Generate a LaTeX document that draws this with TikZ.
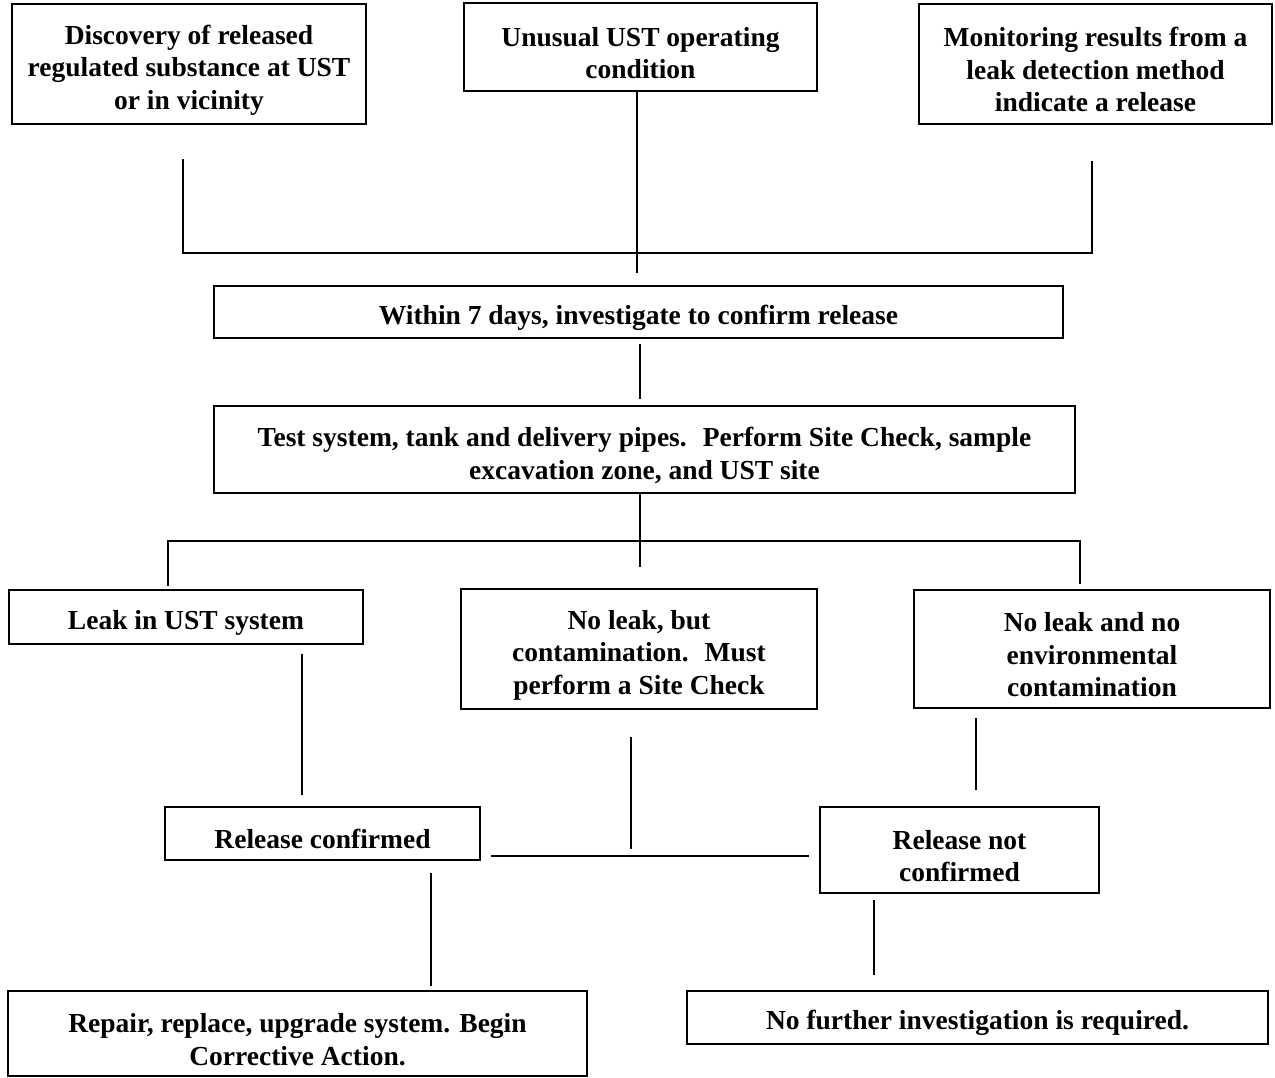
\documentclass[tikz,border=0pt]{standalone}
\usepackage{fontspec}
\setmainfont{Liberation Serif}
\usetikzlibrary{calc}

% pushes the first text line of a box down a little
\newcommand{\boxgap}{\rule{0pt}{31pt}}

\begin{document}
\begin{tikzpicture}[
    x=1pt, y=-1pt,
    font=\fontsize{27.5}{32.5}\selectfont\bfseries,
    box/.style={draw, line width=2.6pt, align=center, inner sep=0pt},
    link/.style={line width=1.8pt}
]

\useasboundingbox (0,0) rectangle (1275,1077);

% ==========================================
% 1. TRIGGER BOXES (top row)
% ==========================================

\node[box, minimum width=354pt, minimum height=120pt] (disc) at (189,64)
    {\boxgap Discovery of released\\regulated substance at UST\\or in vicinity};
\node[box, minimum width=353pt, minimum height=88pt] (unusual) at (640.5,47)
    {\boxgap Unusual UST operating\\condition};
\node[box, minimum width=353pt, minimum height=120pt] (monit) at (1095.5,64)
    {\boxgap Monitoring results from a\\leak detection method\\indicate a release};

% ==========================================
% 2. INVESTIGATION BOXES
% ==========================================

\node[box, minimum width=849pt, minimum height=52pt] (within) at (638.5,312)
    {\boxgap Within 7 days, investigate to confirm release};
\node[box, minimum width=861pt, minimum height=87pt] (test) at (644.5,449.5)
    {\boxgap Test system, tank and delivery pipes.~ Perform Site Check, sample\\excavation zone, and UST site};

% ==========================================
% 3. RESULT BOXES
% ==========================================

\node[box, minimum width=354pt, minimum height=54pt] (leak) at (186,617)
    {\boxgap Leak in UST system};
\node[box, minimum width=356pt, minimum height=120pt] (contam) at (639,649)
    {\boxgap No leak, but\\contamination.~ Must\\perform a Site Check};
\node[box, minimum width=356pt, minimum height=118pt] (noleak) at (1092,649)
    {\boxgap No leak and no\\environmental\\contamination};

\node[box, minimum width=315pt, minimum height=53pt] (conf) at (322.5,833.5)
    {\boxgap Release confirmed};
\node[box, minimum width=279pt, minimum height=86pt] (notconf) at (959.5,850)
    {\boxgap Release not\\confirmed};

\node[box, minimum width=579pt, minimum height=85pt] (repair) at (297.5,1033.5)
    {\boxgap Repair, replace, upgrade system. Begin\\Corrective Action.};
\node[box, minimum width=581pt, minimum height=53pt] (nofurther) at (977.5,1017.5)
    {\boxgap No further investigation is required.};

% ==========================================
% 4. CONNECTORS
% ==========================================

\coordinate (jtop) at (637,253);
\coordinate (jmid) at (640,541);
\coordinate (jlow) at (631,856);

% Top bracket
\draw[link] ($(disc.south)+(-6,34)$) |- (jtop) -| ($(monit.south)+(-3.5,36)$);
\draw[link] (unusual.south -| jtop) -- ($(jtop)+(0,20)$);

% Down to the test box
\draw[link] ($(within.south)+(1.5,5)$) -- ($(test.north)+(-4.5,-6)$);

% Middle bracket
\draw[link] (test.south -| jmid) -- ($(jmid)+(0,26)$);
\draw[link] ($(leak.north)+(-18,-3)$) |- (jmid) -| ($(noleak.north)+(-12,-5)$);

% Results to confirmation
\draw[link] ($(leak.south)+(116,9)$) -- ($(conf.north)+(-20.5,-11)$);
\draw[link] ($(contam.south)+(-8,27)$) -- ($(jlow)+(0,-7)$);
\draw[link] ($(noleak.south)+(-116,9)$) -- ($(notconf.north)+(16.5,-16)$);
\draw[link] ($(conf.east)+(10,22.5)$) -- ($(notconf.west)+(-10,6)$);

% Final outcomes
\draw[link] ($(conf.south)+(108.5,12)$) -- ($(repair.north)+(133.5,-4)$);
\draw[link] ($(notconf.south)+(-85.5,6)$) -- ($(nofurther.north)+(-103.5,-15)$);

\end{tikzpicture}
\end{document}
